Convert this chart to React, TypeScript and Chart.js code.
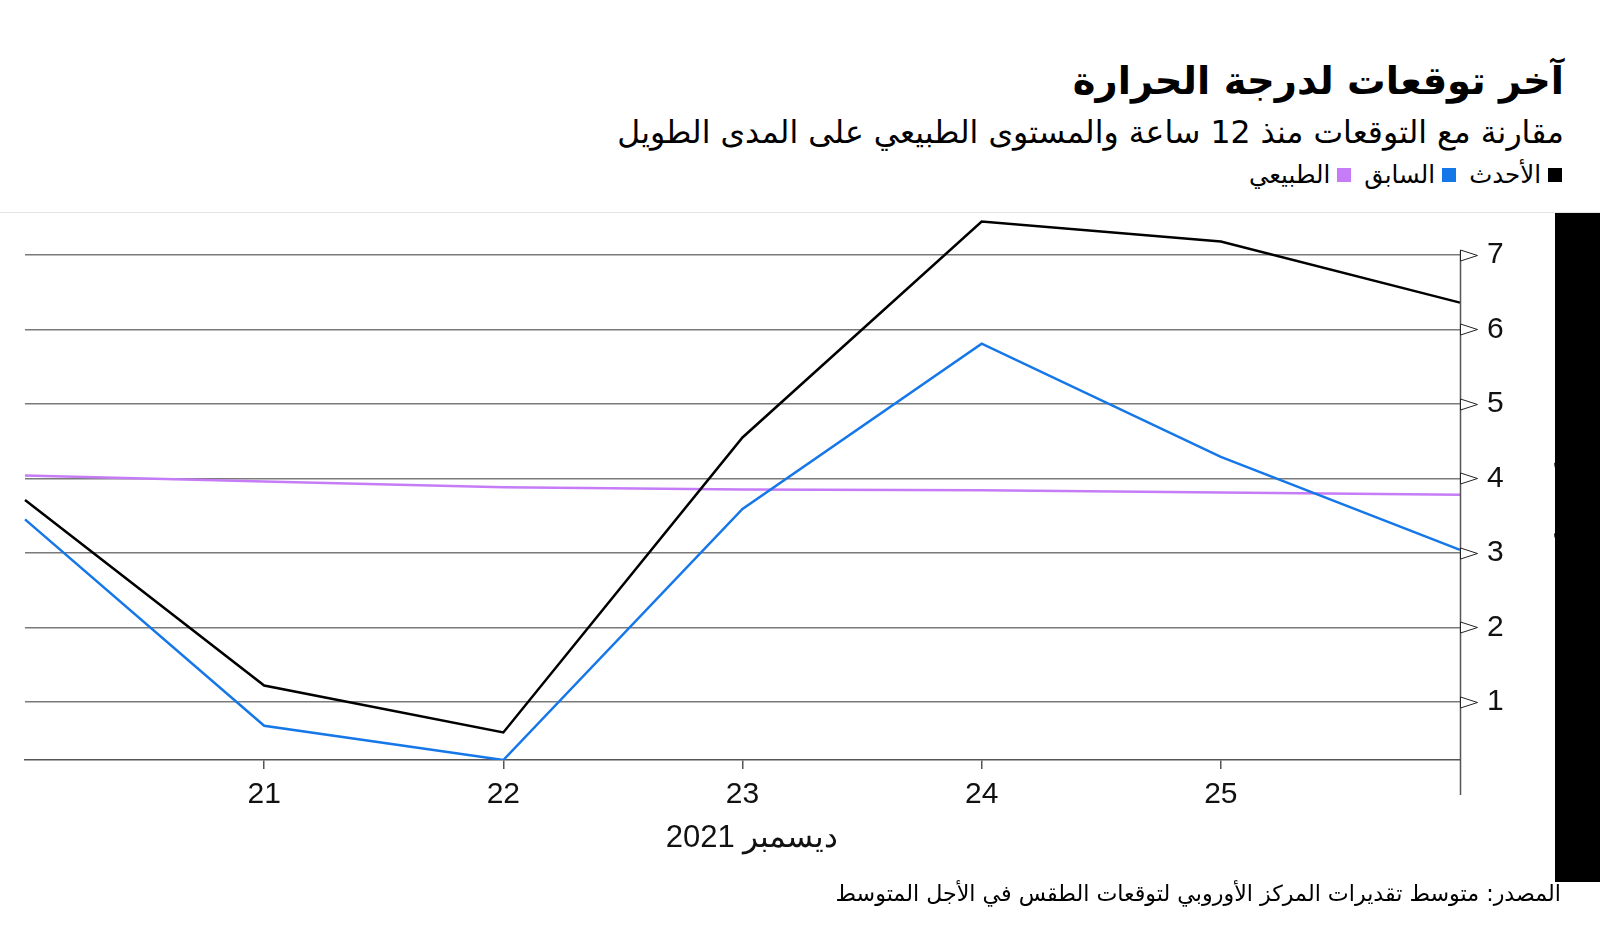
import React, { useEffect, useRef } from "react";
import { Chart, registerables } from "chart.js";

Chart.register(...registerables);

const dayLabels = ["20", "21", "22", "23", "24", "25", "26"];
const shownDays = ["21", "22", "23", "24", "25"];
const latest = [3.71, 1.22, 0.59, 4.55, 7.45, 7.18, 6.36];
const previous = [3.45, 0.68, 0.22, 3.59, 5.81, 4.29, 3.04];
const normal = [4.04, 3.96, 3.88, 3.85, 3.84, 3.81, 3.78];
const yTicks = [1, 2, 3, 4, 5, 6, 7];
const yMin = 0.22;
const yMax = 7.55;

const titleText = "آخر توقعات لدرجة الحرارة";
const subtitleText = "مقارنة مع التوقعات منذ 12 ساعة والمستوى الطبيعي على المدى الطويل";
const legendItems = [
  { label: "الأحدث", color: "#000000" },
  { label: "السابق", color: "#1577e8" },
  { label: "الطبيعي", color: "#c67cf6" },
];
const xTitle = "ديسمبر 2021";
const yTitle = "درجات مئوية";
const sourceText = "المصدر: متوسط تقديرات المركز الأوروبي لتوقعات الطقس في الأجل المتوسط";

const arabicFont = "'DejaVu Sans', 'Noto Sans', sans-serif";
const numFont = "'Liberation Sans', Arial, sans-serif";

const CANVAS_W = 1555;
const CANVAS_TOP = 152;
const CANVAS_H = 710;
const AREA_TOP = 214 - CANVAS_TOP; // desired chart-area top inside the canvas
const X_AXIS_H = CANVAS_TOP + CANVAS_H - 760;

const axisPlugin = {
  id: "axisDecor",
  afterDraw(chart: any) {
    const ctx = chart.ctx;
    const area = chart.chartArea;
    const y = chart.scales.y;
    const x0 = Math.round(area.right) + 0.5;
    ctx.save();
    ctx.strokeStyle = "#555";
    ctx.lineWidth = 1.5;
    ctx.beginPath();
    ctx.moveTo(x0, y.getPixelForValue(yTicks[yTicks.length - 1]) - 4);
    ctx.lineTo(x0, area.bottom + 35);
    ctx.stroke();
    ctx.lineWidth = 1;
    ctx.strokeStyle = "#222";
    ctx.fillStyle = "#fff";
    for (const v of yTicks) {
      const py = Math.round(y.getPixelForValue(v)) + 0.5;
      ctx.beginPath();
      ctx.moveTo(x0, py - 5.5);
      ctx.lineTo(x0 + 17, py);
      ctx.lineTo(x0, py + 5.5);
      ctx.closePath();
      ctx.fill();
      ctx.stroke();
    }
    ctx.restore();
  },
};

function LineChart() {
  const ref = useRef<HTMLCanvasElement | null>(null);
  useEffect(() => {
    if (!ref.current) return;
    const chart: any = new Chart(ref.current, {
      type: "line",
      data: {
        labels: dayLabels,
        datasets: [
          { label: legendItems[0].label, data: latest, borderColor: legendItems[0].color, borderWidth: 2.5, pointRadius: 0, tension: 0 },
          { label: legendItems[1].label, data: previous, borderColor: legendItems[1].color, borderWidth: 2.5, pointRadius: 0, tension: 0 },
          { label: legendItems[2].label, data: normal, borderColor: legendItems[2].color, borderWidth: 2.5, pointRadius: 0, tension: 0 },
        ],
      },
      options: {
        responsive: false,
        animation: false,
        devicePixelRatio: 1,
        layout: { autoPadding: false, padding: { left: 25, top: AREA_TOP, right: 0, bottom: 0 } },
        plugins: {
          legend: { display: false },
          title: { display: false, padding: 0 },
          subtitle: { display: false, padding: 0 },
          tooltip: { enabled: false },
        },
        scales: {
          x: {
            type: "category",
            offset: false,
            afterFit: (s: any) => { s.height = X_AXIS_H; },
            grid: {
              offset: false,
              drawOnChartArea: false,
              drawTicks: true,
              tickLength: 9,
              lineWidth: 1.5,
              color: (c: any) => (shownDays.includes(dayLabels[c.index]) ? "#555" : "rgba(0,0,0,0)"),
            },
            border: { display: true, color: "#555", width: 1.5 },
            ticks: {
              autoSkip: false,
              maxRotation: 0,
              padding: 8,
              color: "#111",
              font: { family: numFont, size: 30 },
              callback: (_v: any, i: number) => (shownDays.includes(dayLabels[i]) ? dayLabels[i] : ""),
            },
          },
          y: {
            position: "right",
            bounds: "data",
            min: yMin,
            max: yMax,
            afterFit: (s: any) => { s.width = 95; },
            afterBuildTicks: (s: any) => { s.ticks = yTicks.map((v) => ({ value: v })); },
            grid: { drawTicks: false, color: "#7a7a7a", lineWidth: 1.5 },
            border: { display: false },
            ticks: {
              padding: 27,
              color: "#111",
              font: { family: numFont, size: 30 },
            },
          },
        },
      },
      plugins: [axisPlugin],
    } as any);
    for (let i = 0; i < 8; i++) {
      const diff = AREA_TOP - chart.chartArea.top;
      if (Math.abs(diff) < 0.3) break;
      chart.options.layout.padding.top += diff;
      chart.update();
    }
    return () => chart.destroy();
  }, []);
  return (
    <canvas
      ref={ref}
      width={CANVAS_W}
      height={CANVAS_H}
      style={{ position: "absolute", left: 0, top: CANVAS_TOP, width: CANVAS_W, height: CANVAS_H }}
    />
  );
}

export default function App() {
  return (
    <div style={{ position: "fixed", left: 0, top: 0, width: 1600, height: 929, background: "#fff", overflow: "hidden" }}>
      <div dir="rtl" style={{ position: "absolute", right: 36, top: 55, fontFamily: arabicFont, fontWeight: 700, fontSize: 38.5, lineHeight: "52px", color: "#000", whiteSpace: "nowrap" }}>
        {titleText}
      </div>
      <div dir="rtl" style={{ position: "absolute", right: 36, top: 112, fontFamily: arabicFont, fontSize: 31.5, lineHeight: "40px", color: "#000", whiteSpace: "nowrap" }}>
        {subtitleText}
      </div>
      <div dir="rtl" style={{ position: "absolute", right: 38, top: 160, display: "flex", alignItems: "center", gap: 13, fontFamily: arabicFont, fontSize: 24.5, lineHeight: "30px", color: "#000", whiteSpace: "nowrap" }}>
        {legendItems.map((it) => (
          <div key={it.label} style={{ display: "flex", alignItems: "center", gap: 7 }}>
            <span style={{ display: "inline-block", width: 14, height: 14, background: it.color }} />
            <span>{it.label}</span>
          </div>
        ))}
      </div>
      <div style={{ position: "absolute", left: 0, top: 212, width: 1600, height: 1, background: "#e3e3e3" }} />
      <LineChart />
      <div dir="rtl" style={{ position: "absolute", left: 652, width: 200, top: 819, textAlign: "center", fontFamily: numFont, fontSize: 31, lineHeight: "36px", color: "#111", whiteSpace: "nowrap" }}>
        {xTitle}
      </div>
      <div dir="rtl" style={{ position: "absolute", left: 1566 - 80, top: 500 - 14, width: 160, height: 28, textAlign: "center", transform: "rotate(90deg)", fontFamily: arabicFont, fontSize: 20, lineHeight: "28px", color: "#111", whiteSpace: "nowrap" }}>
        {yTitle}
      </div>
      <div style={{ position: "absolute", left: 1555, top: 213, width: 45, height: 669, background: "#000" }} />
      <div dir="rtl" style={{ position: "absolute", right: 39, top: 878, fontFamily: arabicFont, fontSize: 22.2, lineHeight: "30px", color: "#000", whiteSpace: "nowrap" }}>
        {sourceText}
      </div>
    </div>
  );
}
